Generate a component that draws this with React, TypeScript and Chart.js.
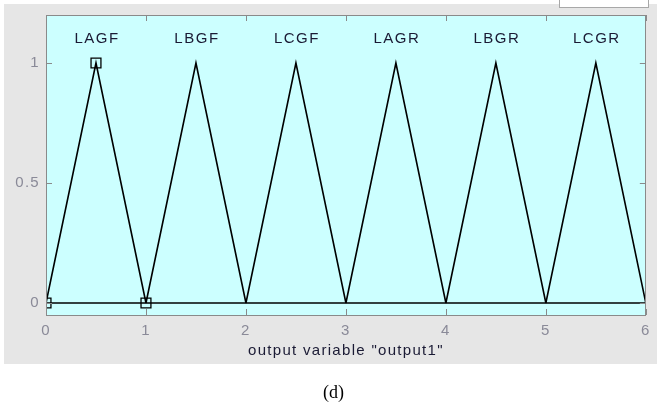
import React, { useEffect, useRef } from "react";
import { Chart, registerables } from "chart.js";

Chart.register(...registerables);

// ---- data ----
const mfNames = ["LAGF", "LBGF", "LCGF", "LAGR", "LBGR", "LCGR"];
const mfLeft = [0, 1, 2, 3, 4, 5];
const mfPeak = [0.5, 1.5, 2.5, 3.5, 4.5, 5.5];
const mfRight = [1, 2, 3, 4, 5, 6];
const selectedMf = 0;
const xTicks = [0, 1, 2, 3, 4, 5, 6];
const yTicks = [0, 0.5, 1];
const xMin = 0;
const xMax = 6;
const yMin = -0.05;
const yMax = 1.2;
const labelY = 1.1;
const xTitle = 'output variable "output1"';
const caption = "(d)";

const FONT = "'Liberation Sans', Arial, sans-serif";
const TICK_COLOR = "#8a8a98";
const TEXT_COLOR = "#1a1a34";
const FRAME_COLOR = "#8a8a8a";

const bgPlugin = {
  id: "bgPlugin",
  beforeDraw(chart: any) {
    const { ctx, chartArea } = chart;
    ctx.letterSpacing = "1.3px";
    ctx.save();
    ctx.fillStyle = "#ccffff";
    ctx.fillRect(chartArea.left, chartArea.top, chartArea.right - chartArea.left, chartArea.bottom - chartArea.top);
    ctx.restore();
  },
  afterDraw(chart: any) {
    const { ctx, chartArea, scales } = chart;
    const { left, right, top, bottom } = chartArea;
    ctx.save();
    ctx.strokeStyle = FRAME_COLOR;
    ctx.lineWidth = 1;
    ctx.beginPath();
    xTicks.forEach((v) => {
      const px = Math.round(scales.x.getPixelForValue(v)) + 0.5;
      ctx.moveTo(px, bottom);
      ctx.lineTo(px, bottom - 6);
      ctx.moveTo(px, top);
      ctx.lineTo(px, top + 6);
    });
    yTicks.forEach((v) => {
      const py = Math.round(scales.y.getPixelForValue(v)) + 0.5;
      ctx.moveTo(left, py);
      ctx.lineTo(left + 6, py);
      ctx.moveTo(right, py);
      ctx.lineTo(right - 6, py);
    });
    ctx.stroke();
    ctx.strokeRect(Math.round(left) + 0.5, Math.round(top) + 0.5, Math.round(right - left) - 1, Math.round(bottom - top));
    // MF names
    ctx.fillStyle = TEXT_COLOR;
    ctx.font = `15px ${FONT}`;
    ctx.letterSpacing = "1.5px";
    ctx.textAlign = "center";
    ctx.textBaseline = "middle";
    mfNames.forEach((n, i) => {
      ctx.fillText(n, scales.x.getPixelForValue(mfPeak[i]) + 1, scales.y.getPixelForValue(labelY));
    });
    ctx.restore();
  },
};

export default function App() {
  const ref = useRef<HTMLCanvasElement>(null);
  useEffect(() => {
    if (!ref.current) return;
    const datasets: any[] = mfNames.map((n, i) => ({
      label: n,
      data: [
        { x: mfLeft[i], y: 0 },
        { x: mfPeak[i], y: 1 },
        { x: mfRight[i], y: 0 },
      ],
      borderColor: "#000",
      borderWidth: 1.6,
      pointRadius: 0,
      tension: 0,
      fill: false,
    }));
    datasets.push({
      label: "base",
      data: [
        { x: xMin, y: 0 },
        { x: xMax, y: 0 },
      ],
      borderColor: "#000",
      borderWidth: 1.5,
      pointRadius: 0,
      fill: false,
    });
    datasets.push({
      label: "selected",
      type: "scatter",
      data: [
        { x: mfLeft[selectedMf], y: 0 },
        { x: mfPeak[selectedMf], y: 1 },
        { x: mfRight[selectedMf], y: 0 },
      ],
      showLine: false,
      pointStyle: "rect",
      pointRadius: 7,
      pointBorderColor: "#000",
      pointBackgroundColor: "rgba(0,0,0,0)",
      pointBorderWidth: 1.3,
      borderColor: "#000",
      backgroundColor: "rgba(0,0,0,0)",
    });
    const chart = new Chart(ref.current, {
      type: "line",
      data: { datasets },
      plugins: [bgPlugin],
      options: {
        animation: false,
        responsive: false,
        devicePixelRatio: 1,
        layout: { padding: { left: 0, top: 14, right: 8, bottom: 52 } },
        plugins: { legend: { display: false }, tooltip: { enabled: false } },
        scales: {
          x: {
            type: "linear",
            min: xMin,
            max: xMax,
            grid: { display: false, drawTicks: false },
            border: { display: false },
            ticks: { color: TICK_COLOR, font: { family: FONT, size: 15 }, padding: 7, maxRotation: 0 },
            title: { display: true, text: xTitle, color: TEXT_COLOR, font: { family: FONT, size: 15 }, padding: { top: 0, bottom: 0 } },
            afterBuildTicks(scale: any) {
              scale.ticks = xTicks.map((v) => ({ value: v }));
            },
            afterFit(scale: any) {
              scale.height = 45;
            },
          },
          y: {
            type: "linear",
            min: yMin,
            max: yMax,
            grid: { display: false, drawTicks: false },
            border: { display: false },
            ticks: {
              color: TICK_COLOR,
              font: { family: FONT, size: 15 },
              padding: 6,
              callback: (v: any) => String(v),
            },
            afterBuildTicks(scale: any) {
              scale.ticks = yTicks.map((v) => ({ value: v }));
            },
            afterFit(scale: any) {
              scale.width = 46;
            },
          },
        },
      },
    } as any);
    return () => chart.destroy();
  }, []);

  return (
    <div style={{ position: "fixed", left: 0, top: 0, width: 657, height: 412, background: "#fff", overflow: "hidden" }}>
      <div style={{ position: "absolute", left: 4, top: 4, width: 653, height: 360, background: "#e6e6e6" }} />
      <div
        style={{
          position: "absolute",
          left: 559,
          top: -1,
          width: 88,
          height: 8,
          background: "#fff",
          border: "1px solid #a8a8a8",
          borderTop: "none",
        }}
      />
      <canvas ref={ref} width={657} height={412} style={{ position: "absolute", left: 0, top: 0, width: 657, height: 412 }} />
      <div
        style={{
          position: "absolute",
          left: 0,
          width: 667,
          top: 382,
          textAlign: "center",
          fontFamily: "'Liberation Serif', 'Times New Roman', serif",
          fontSize: 18,
          color: "#000",
        }}
      >
        {caption}
      </div>
    </div>
  );
}
